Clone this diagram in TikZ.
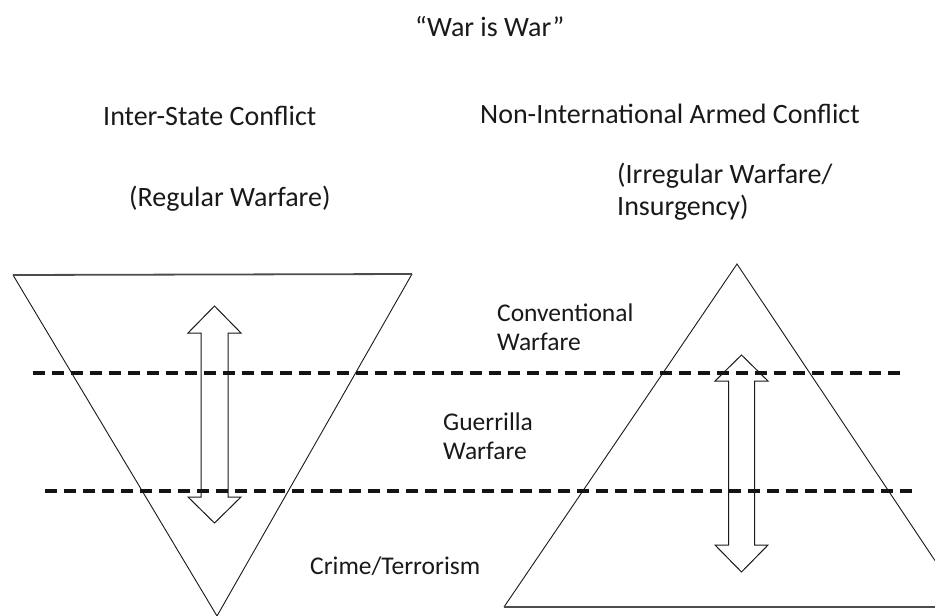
\documentclass[tikz,border=0pt]{standalone}
\usepackage{fontspec}
\setmainfont{Carlito}
\begin{document}
\begin{tikzpicture}[x=1pt,y=-1pt,
  tri/.style={draw=black!90, line width=0.9pt, line join=miter},
  triedge/.style={draw=black!70, line width=1.8pt},
  sepline/.style={draw=black!92, line width=3.2pt, dash pattern=on 12pt off 7pt},
  arrowshape/.style={draw=black!90, line width=1pt, line join=miter},
  big/.style={font=\fontsize{28}{33}\selectfont, anchor=base west, inner sep=0pt, text=black!90},
  lbl/.style={font=\fontsize{25.5}{30}\selectfont, anchor=base west, inner sep=0pt, text=black!90}]
\useasboundingbox (0,0) rectangle (935,616);
\clip (0,0) rectangle (935,616);

% left inverted triangle
\coordinate (LA) at (13,275);
\coordinate (LB) at (412,274);
\coordinate (LC) at (217,616);
\draw[tri] (LA) -- (LC) -- (LB);
\draw[triedge] (LA) -- (LB);

% right triangle (clipped at right edge)
\coordinate (RA) at (737,264);
\coordinate (RB) at (504,607);
\coordinate (RC) at (966,607);
\draw[tri] (RB) -- (RA) -- (RC);
\draw[triedge] (RB) -- (RC);

% dashed separators
\coordinate (D1a) at (33,373);
\coordinate (D1b) at (903,373);
\coordinate (D2a) at (45,491);
\coordinate (D2b) at (915,491);
\draw[sepline] (D1a) -- (D1b);
\draw[sepline] (D2a) -- (D2b);

% left double arrow
\draw[arrowshape] (214.5,306) -- (241,333) -- (228,333) -- (228,497) -- (241,497)
  -- (214.5,523) -- (188,497) -- (201,497) -- (201,333) -- (188,333) -- cycle;

% right double arrow
\draw[arrowshape] (741.5,355) -- (768,381) -- (754.5,381) -- (754.5,545) -- (768,545)
  -- (741.5,572) -- (715,545) -- (728.5,545) -- (728.5,381) -- (715,381) -- cycle;

% texts
\node[big] (title) at (415,36) {“War is War”};
\node[big] (inter) at (103,125) {Inter-State Conflict};
\node[big] (nonint) at (480,123) {Non-International Armed Conflict};
\node[big] (regular) at (129,206) {(Regular Warfare)};
\node[big] (irr1) at (617,183) {(Irregular Warfare/};
\node[big] (irr2) at (617,215) {Insurgency)};
\node[lbl] (conv1) at (497,321) {Conventional};
\node[lbl] (conv2) at (497,350) {Warfare};
\node[lbl] (guer1) at (443,430) {Guerrilla};
\node[lbl] (guer2) at (443,459) {Warfare};
\node[lbl] (crime) at (310,574) {Crime/Terrorism};
\end{tikzpicture}
\end{document}
